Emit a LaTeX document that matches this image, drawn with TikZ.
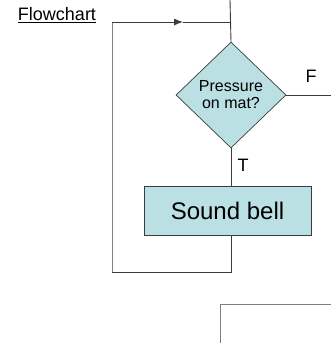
\documentclass[tikz,border=0pt]{standalone}
\usepackage{fontspec}
\setmainfont{Liberation Sans}
\usetikzlibrary{shapes.geometric,arrows.meta}
\definecolor{boxfill}{RGB}{187,224,227}
\definecolor{lineclr}{RGB}{60,60,60}
\definecolor{greyline}{RGB}{128,128,128}
\begin{document}
\begin{tikzpicture}[x=1pt,y=-1pt,
  conn/.style={draw=lineclr,line width=0.9pt},
  gconn/.style={draw=greyline,line width=1pt},
  decision/.style={diamond,draw=lineclr,fill=boxfill,line width=0.7pt,minimum width=110pt,minimum height=106pt,inner sep=0pt,align=center,font=\fontsize{16}{17}\selectfont},
  process/.style={rectangle,draw=lineclr,fill=boxfill,line width=0.7pt,minimum width=167pt,minimum height=49pt,inner sep=0pt,font=\fontsize{24}{26}\selectfont},
  lbl/.style={inner sep=0pt,font=\fontsize{18}{19}\selectfont}]
\useasboundingbox (0,0) rectangle (331,343);
\node[inner sep=0pt,font=\fontsize{18}{20}\selectfont] (title) at (57,15) {\underline{Flowchart}};
\coordinate (top) at (230,0);
\node[decision] (d) at (231,95) {Pressure\\on mat?};
\coordinate (rightend) at (331,95);
\node[lbl] (F) at (311,76) {F};
\node[process] (b) at (227.5,210.5) {Sound bell};
\node[lbl] (T) at (243,165) {T};
\coordinate (c1) at (231,272);
\coordinate (c2) at (112,272);
\coordinate (c3) at (112,22);
\coordinate (c4) at (230,22);
\coordinate (mid) at (183,22);
\draw[conn] (top) -- (d.north);
\draw[conn] (d.east) -- (rightend);
\draw[conn] (d.south) -- (d.south |- b.north);
\draw[conn] (b.south -| c1) -- (c1) -- (c2);
\draw[gconn] (c2) -- (c3);
\draw[conn,-{Latex[length=9pt,width=7pt]}] (c3) -- (mid);
\draw[conn] (mid) -- (c4);
\coordinate (g1) at (220,343);
\coordinate (g2) at (220,304);
\coordinate (g3) at (331,304);
\draw[gconn] (g1) -- (g2) -- (g3);
\end{tikzpicture}
\end{document}
